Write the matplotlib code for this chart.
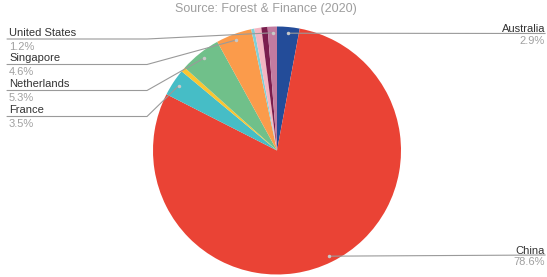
import numpy as np
import matplotlib
matplotlib.use("Agg")
import matplotlib.pyplot as plt

# 슬라이스 데이터 (12시 방향부터 시계방향)
countries = ["Australia", "China", "France", "Other 1", "Netherlands",
             "Singapore", "Other 2", "Other 3", "Other 4", "United States"]
shares = [2.9, 78.6, 3.5, 0.6, 5.3, 4.6, 0.4, 0.9, 0.8, 1.2]
colors = ["#234c99", "#ea4335", "#46bdc6", "#fbc531", "#70c08a",
          "#fb9b4b", "#80cfd6", "#f4b6c2", "#7a1e4e", "#c27ba0"]
labelled = ["Australia", "China", "France", "Netherlands", "Singapore", "United States"]

plt.rcParams["font.family"] = ["Liberation Sans", "DejaVu Sans"]

W, H = 547, 277
fig = plt.figure(figsize=(W / 100, H / 100), dpi=100)
ax = fig.add_axes([0, 0, 1, 1])

cx, cy, r = 277, H - 150.5, 124
wedges, _ = ax.pie(shares, colors=colors, startangle=90, counterclock=False,
                   center=(cx, cy), radius=r, frame=True,
                   wedgeprops=dict(linewidth=0))
ax.set_xlim(0, W)
ax.set_ylim(0, H)
ax.set_aspect("equal")
ax.axis("off")

fig.text(266 / W, 1 - 9 / H, "Source: Forest & Finance (2020)", ha="center", va="center",
         fontsize=9, color="#9e9e9e")

name_col = "#333333"
pct_col = "#a0a0a0"
line_col = "#9a9a9a"

# 라벨 위치 (픽셀, 위에서부터)
left_line_y = {"United States": 39, "Singapore": 64.5, "Netherlands": 90.5, "France": 116.5}
right_line_y = {"Australia": 33.5, "China": 255}

for w, name, val in zip(wedges, countries, shares):
    if name not in labelled:
        continue
    mid = np.deg2rad((w.theta1 + w.theta2) / 2)
    px = cx + 0.95 * r * np.cos(mid)
    py = cy + 0.95 * r * np.sin(mid)
    if name in left_line_y:
        ly = H - left_line_y[name]
        ax.plot([7, 147, px], [ly, ly, py], color=line_col, lw=0.8, solid_capstyle="round")
        ax.text(9, ly + 3.5, name, ha="left", va="baseline", fontsize=8, color=name_col)
        ax.text(9, ly - 2.5, f"{val}%", ha="left", va="top", fontsize=8, color=pct_col)
    else:
        ly = H - right_line_y[name]
        ax.plot([px, 545], [py, ly], color=line_col, lw=0.8)
        ax.text(545, ly + 1.5, name, ha="right", va="baseline", fontsize=8, color=name_col)
        ax.text(545, ly - 2, f"{val}%", ha="right", va="top", fontsize=8, color=pct_col)
    ax.plot(px, py, "o", ms=2.5, color="#c8c8c8", mec="none")

fig.savefig("out.png", dpi=100)
